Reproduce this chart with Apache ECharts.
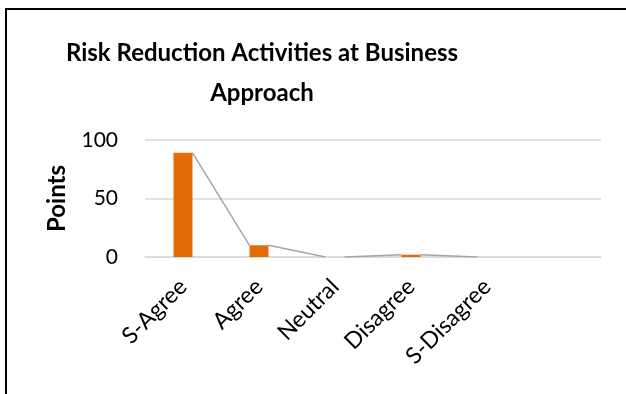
<!DOCTYPE html>
<html>
<head>
<meta charset="utf-8">
<script src="https://cdn.jsdelivr.net/npm/echarts@6/dist/echarts.min.js"></script>
<style>
  html, body { margin: 0; padding: 0; background: #fff; }
  #chart { width: 626px; height: 394px; }
</style>
</head>
<body>
<div id="chart"></div>
<script>
// Survey responses: points per answer category
const categories = ['S-Agree', 'Agree', 'Neutral', 'Disagree', 'S-Disagree', ''];
const points = [89, 10, 0, 2, 0];
const yTicks = [0, 50, 100];

const BAR_FRAC = 0.25;           // bar width as a share of the category band
const half = BAR_FRAC / 2;

// Series lines join each bar's top-right corner to the next bar's top-left corner
const seriesLine = [];
for (let i = 0; i < points.length - 1; i++) {
  seriesLine.push([i + half, points[i]]);
  seriesLine.push([i + 1 - half, points[i + 1]]);
  seriesLine.push('-');
}

const FONT = 'Lato, "Open Sans", sans-serif';
const chart = echarts.init(document.getElementById('chart'), null, { renderer: 'canvas' });

chart.setOption({
  animation: false,
  backgroundColor: '#ffffff',
  title: {
    text: 'Risk Reduction Activities at Business\nApproach',
    left: 257,
    top: 28,
    textAlign: 'center',
    textStyle: {
      fontFamily: FONT,
      fontWeight: 'bold',
      fontSize: 24,
      lineHeight: 40,
      color: '#000'
    }
  },
  graphic: [{
    type: 'rect',
    shape: { x: 6, y: 9, width: 640, height: 400 },
    style: { fill: 'none', stroke: '#000', lineWidth: 2 },
    silent: true
  }],
  grid: { left: 145, right: 25, top: 140, bottom: 137, containLabel: false },
  xAxis: [{
    type: 'category',
    data: categories,
    boundaryGap: true,
    axisLine: { show: true, lineStyle: { color: '#d9d9d9', width: 1.5 } },
    axisTick: { show: false },
    axisLabel: {
      rotate: 45,
      margin: 26,
      interval: 0,
      fontFamily: FONT,
      fontSize: 23,
      color: '#000'
    },
    splitLine: { show: false }
  }, {
    type: 'value',
    min: -0.5,
    max: categories.length - 0.5,
    show: false
  }],
  yAxis: {
    type: 'value',
    min: yTicks[0],
    max: yTicks[yTicks.length - 1],
    interval: yTicks[1] - yTicks[0],
    name: 'Points',
    nameLocation: 'middle',
    nameRotate: 90,
    nameGap: 76,
    nameTextStyle: { fontFamily: FONT, fontWeight: 'bold', fontSize: 24, color: '#000' },
    axisLine: { show: false },
    axisTick: { show: false },
    axisLabel: { margin: 27, fontFamily: FONT, fontSize: 21, color: '#000' },
    splitLine: { lineStyle: { color: '#d9d9d9', width: 1.5 } }
  },
  series: [{
    type: 'bar',
    data: points,
    xAxisIndex: 0,
    barWidth: (BAR_FRAC * 100) + '%',
    itemStyle: { color: '#e46c0a' },
    z: 3
  }, {
    type: 'line',
    xAxisIndex: 1,
    data: seriesLine,
    showSymbol: false,
    connectNulls: false,
    lineStyle: { color: '#a5a5a5', width: 1.5 },
    z: 2
  }]
});
</script>
</body>
</html>
